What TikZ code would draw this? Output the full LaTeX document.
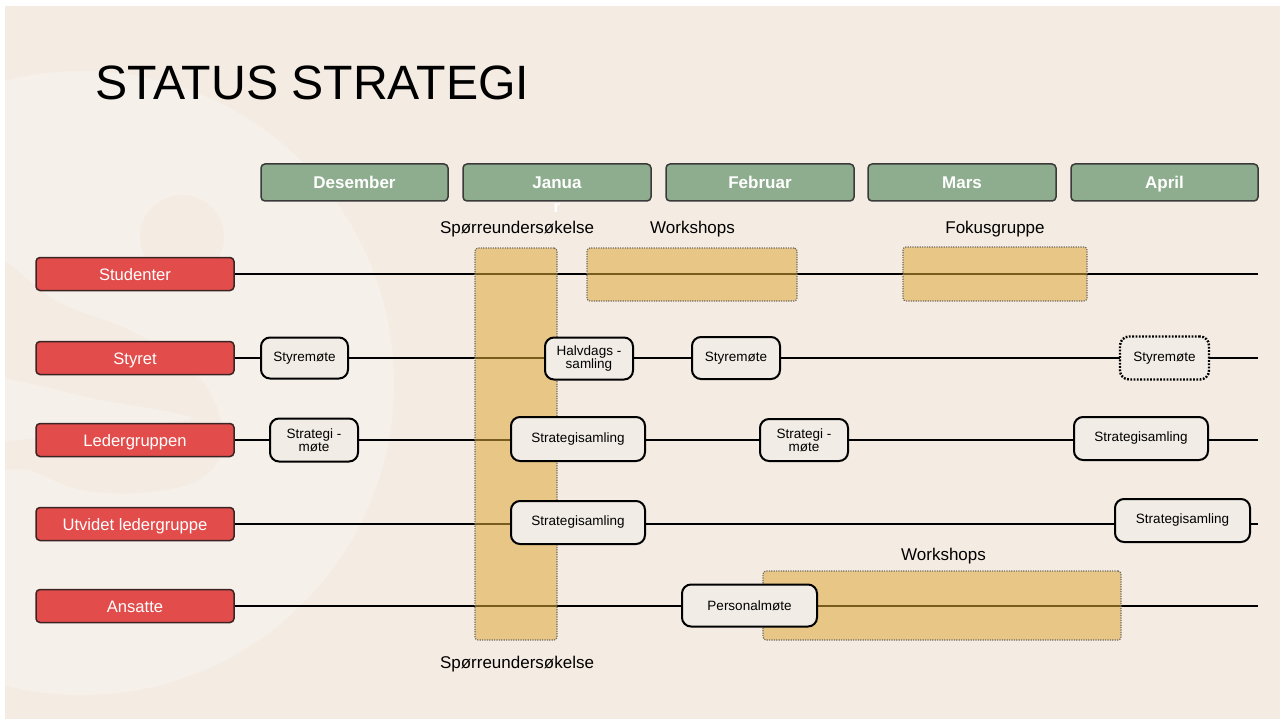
\documentclass[tikz,border=0pt]{standalone}
\usepackage{fontspec}
\setmainfont{Liberation Sans}
\definecolor{bgc}{HTML}{F4ECE3}
\definecolor{wm}{HTML}{F5F0EA}
\definecolor{hdrfill}{HTML}{8EAD8E}
\definecolor{hdrline}{HTML}{3A3A3A}
\definecolor{lblfill}{HTML}{E24C4B}
\definecolor{lblline}{HTML}{3A2424}
\definecolor{evtfill}{HTML}{F1ECE5}
\definecolor{shade}{HTML}{DEA938}
\definecolor{zoneline}{HTML}{6E6A66}
\pgfdeclarelayer{back}
\pgfdeclarelayer{wires}
\pgfdeclarelayer{zones}
\pgfsetlayers{back,wires,zones,main}
\begin{document}
\begin{tikzpicture}[x=1pt,y=-1pt,
  hdr/.style={draw=hdrline, line width=1.5pt, fill=hdrfill, rounded corners=4pt,
    minimum width=187pt, minimum height=37pt, inner sep=0pt, outer sep=0pt, text=white,
    text height=12.4pt, text depth=0pt,
    font=\bfseries\fontsize{17}{20}\selectfont},
  lbl/.style={draw=lblline, line width=1.5pt, fill=lblfill, rounded corners=4pt,
    minimum width=198pt, minimum height=33pt, inner sep=0pt, outer sep=0pt, text=white,
    text height=12.4pt, text depth=0pt,
    font=\fontsize{16.6}{20}\selectfont},
  evt/.style={draw=black, line width=2pt, fill=evtfill, rounded corners=9pt,
    inner sep=0pt, outer sep=0pt, align=center, font=\fontsize{13.5}{13}\selectfont},
  conn/.style={line width=2.2pt, draw=black},
  zone/.style={fill=shade, fill opacity=.54, draw=zoneline, draw opacity=1,
    line width=1.2pt, dash pattern=on 1.2pt off 1.2pt, rounded corners=3pt,
    inner sep=0pt, outer sep=0pt},
  zonetxt/.style={font=\fontsize{17}{20}\selectfont, anchor=base, inner sep=0pt},
]
\useasboundingbox (0,0) rectangle (1285,722);
\begin{pgfonlayer}{back}
  \fill[white] (0,0) rectangle (1285,722);
  \fill[bgc] (5,6) rectangle (1280,719);
  \begin{scope}
    \clip (5,6) rectangle (1280,719);
    \fill[wm] (82,383) circle (312);
    \fill[bgc] (182,237) circle (42);
    \fill[bgc] plot[smooth cycle, tension=0.6] coordinates {(-20,262) (60,303) (133,332) (190,368) (218,410) (220,455) (195,482) (140,493) (83,490) (35,472) (-20,445)};
    \fill[wm] plot[smooth cycle, tension=0.5] coordinates {(-20,378) (100,400) (192,418) (100,428) (-20,440)};
  \end{scope}
\end{pgfonlayer}

% title
\node[anchor=base west, inner sep=0pt, font=\fontsize{48.2}{50}\selectfont] (title) at (95,100) {STATUS STRATEGI};

% month headers
\node[hdr] (mDes) at (354.5,182.5) {Desember};
\node[hdr, minimum width=188pt] (mJan) at (557,182.5) {Janua};
\node[anchor=base, inner sep=0pt, text=white, font=\bfseries\fontsize{17}{20}\selectfont] (mJanR) at (557,213) {r};
\node[hdr, minimum width=188pt] (mFeb) at (760,182.5) {Februar};
\node[hdr, minimum width=188pt] (mMar) at (962,182.5) {Mars};
\node[hdr] (mApr) at (1164.5,182.5) {April};

% row labels
\node[lbl] (lStu) at (135,274) {Studenter};
\node[lbl] (lSty) at (135,358) {Styret};
\node[lbl] (lLed) at (135,440) {Ledergruppen};
\node[lbl] (lUtv) at (135,524) {Utvidet ledergruppe};
\node[lbl] (lAns) at (135,606) {Ansatte};

% row ends
\coordinate (e1) at (1258,274);
\coordinate (e2) at (1258,358);
\coordinate (e3) at (1258,440);
\coordinate (e4) at (1258,524);
\coordinate (e5) at (1258,606);

% events
\node[evt, minimum width=87pt, minimum height=41pt] (s1) at (304.5,358) {Styremøte};
\node[evt, minimum width=88pt, minimum height=42pt] (halv) at (589,358.5) {Halvdags -\\samling};
\node[evt, minimum width=88pt, minimum height=42pt] (s2) at (736,358) {Styremøte};
\node[evt, minimum width=89pt, minimum height=43pt, line width=2.4pt, dash pattern=on 1.8pt off 1.5pt] (s3) at (1164.5,358) {Styremøte};

\node[evt, minimum width=88pt, minimum height=43pt] (sm1) at (314,440) {Strategi -\\møte};
\node[evt, minimum width=134pt, minimum height=44pt] (ss1) at (578,439) {Strategisamling};
\node[evt, minimum width=88pt, minimum height=42pt] (sm2) at (804,440) {Strategi -\\møte};
\node[evt, minimum width=134pt, minimum height=43pt] (ss2) at (1141,438.5) {Strategisamling};

\node[evt, minimum width=134pt, minimum height=43pt] (ss3) at (578,522.5) {Strategisamling};
\node[evt, minimum width=135pt, minimum height=43pt] (ss4) at (1182.5,520.5) {Strategisamling};

\node[evt, minimum width=135pt, minimum height=42pt] (pm) at (749.5,605.5) {Personalmøte};

% zone labels
\node[zonetxt] (tSp1) at (517,233.5) {Spørreundersøkelse};
\node[zonetxt] (tWs1) at (692.5,233.5) {Workshops};
\node[zonetxt] (tFg) at (995,233.5) {Fokusgruppe};
\node[zonetxt] (tWs2) at (943.5,560) {Workshops};
\node[zonetxt] (tSp2) at (517,668) {Spørreundersøkelse};

% zones
\begin{pgfonlayer}{zones}
  \node[zone, minimum width=82pt, minimum height=392pt] (zCol) at (516,444) {};
  \node[zone, minimum width=210pt, minimum height=53pt] (zWs1) at (692,274.5) {};
  \node[zone, minimum width=184pt, minimum height=54pt] (zFg) at (995,274) {};
  \node[zone, minimum width=358pt, minimum height=69pt] (zWs2) at (942,605.5) {};
\end{pgfonlayer}

% connectors
\begin{pgfonlayer}{wires}
  \draw[conn] (lStu.east) -- (e1);
  \draw[conn] (lSty.east) -- (s1.west);
  \draw[conn] (s1.east) -- (halv.west |- s1.east);
  \draw[conn] (halv.east |- s1.east) -- (s2.west);
  \draw[conn] (s2.east) -- (s3.west);
  \draw[conn] (s3.east) -- (e2);
  \draw[conn] (lLed.east) -- (sm1.west);
  \draw[conn] (sm1.east) -- (ss1.west |- sm1.east);
  \draw[conn] (ss1.east |- sm1.east) -- (sm2.west);
  \draw[conn] (sm2.east) -- (ss2.west |- sm2.east);
  \draw[conn] (ss2.east |- sm2.east) -- (e3);
  \draw[conn] (lUtv.east) -- (ss3.west |- lUtv.east);
  \draw[conn] (ss3.east |- lUtv.east) -- (ss4.west |- lUtv.east);
  \draw[conn] (ss4.east |- lUtv.east) -- (e4);
  \draw[conn] (lAns.east) -- (pm.west |- lAns.east);
  \draw[conn] (pm.east |- lAns.east) -- (e5);
\end{pgfonlayer}
\end{tikzpicture}
\end{document}
